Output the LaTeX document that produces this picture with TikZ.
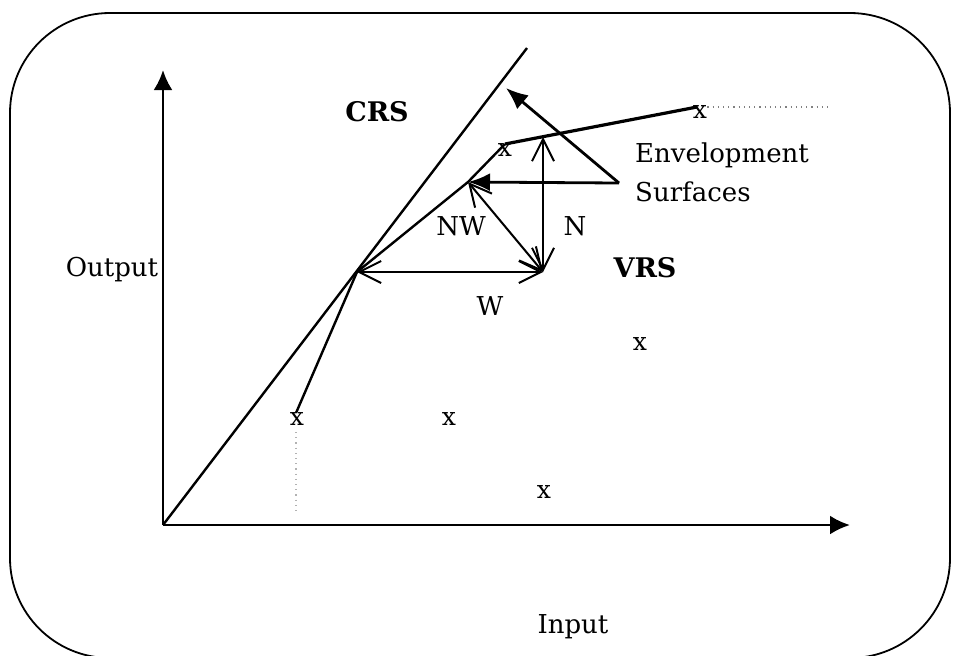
\documentclass[tikz,border=0pt]{standalone}
\usepackage{fontspec}
\setmainfont{DejaVu Serif}
\usetikzlibrary{arrows.meta}
\tikzset{
  every picture/.style={line width=1.2pt},
  lbl/.style={font=\fontsize{13}{19.5}\selectfont, inner sep=0pt},
  bold/.style={font=\fontsize{13.5}{16}\selectfont\bfseries, inner sep=0pt},
  dmu/.style={font=\fontsize{12.5}{14}\selectfont, inner sep=0pt},
  axis/.style={-{Latex[length=10pt,width=9.5pt]}, line width=1.4pt},
  envarrow/.style={-{Latex[length=11pt,width=9pt]}, line width=1.4pt},
  proj/.style={{Straight Barb[length=11pt,width=11pt]}-{Straight Barb[length=11pt,width=11pt]}, line width=1pt},
  guide/.style={dotted, gray, line width=0.6pt},
}
\begin{document}
\begin{tikzpicture}[x=0.5pt, y=-0.5pt]
  \clip (0,0) rectangle (953,655);
  \draw[line width=0.9pt, rounded corners=50pt] (10,13) rectangle (950,658);

  % axes
  \coordinate (O) at (163,525);
  \coordinate (ytip) at (163,70);
  \coordinate (xtip) at (850,525);
  \draw[axis] (O) -- (ytip);
  \draw[axis] (O) -- (xtip);
  \node[lbl] (output) at (112,270) {Output};
  \node[lbl] (input) at (573,627) {Input};

  % frontier points
  \coordinate (A) at (296,413);
  \coordinate (K) at (357,272);
  \coordinate (B) at (468,182);
  \coordinate (C) at (505,144);
  \coordinate (D) at (697,107);
  \coordinate (Dend) at (829,107);
  \coordinate (P) at (543,272);
  \coordinate (Q) at (543,137);
  \coordinate (R) at (527,48);
  \coordinate (E) at (619,183);
  \coordinate (T) at (506,88);
  \coordinate (Afoot) at (296,515);
  \coordinate (Atop) at (296,432);

  % CRS and VRS surfaces
  \draw (O) -- (R);
  \draw (A) -- (K) -- (B) -- (C);
  \draw[line width=1.6pt] (C) -- (D);
  \draw[guide] (D) -- (Dend);
  \draw[guide, gray!60] (Atop) -- (Afoot);

  % projections
  \draw[proj] (K) -- (P);
  \draw[proj] (B) -- (P);
  \draw[proj] (Q) -- (P);
  \draw[envarrow] (E) -- (B);
  \draw[envarrow] (E) -- (T);

  % DMUs
  \node[dmu] (x1) at (297,419) {x};
  \node[dmu] (x2) at (449,419) {x};
  \node[dmu] (x3) at (544,492) {x};
  \node[dmu] (x4) at (640,344) {x};
  \node[dmu] (x5) at (505,150) {x};
  \node[dmu] (x6) at (700,112) {x};

  % labels
  \node[bold] (crs) at (377,112) {CRS};
  \node[bold] (vrs) at (645,268) {VRS};
  \node[lbl] (nw) at (461,226) {NW};
  \node[lbl] (n) at (575,226) {N};
  \node[lbl] (w) at (490,306) {W};
  \node[lbl, align=left, anchor=west] (env) at (634,172) {Envelopment\\Surfaces};
\end{tikzpicture}
\end{document}
